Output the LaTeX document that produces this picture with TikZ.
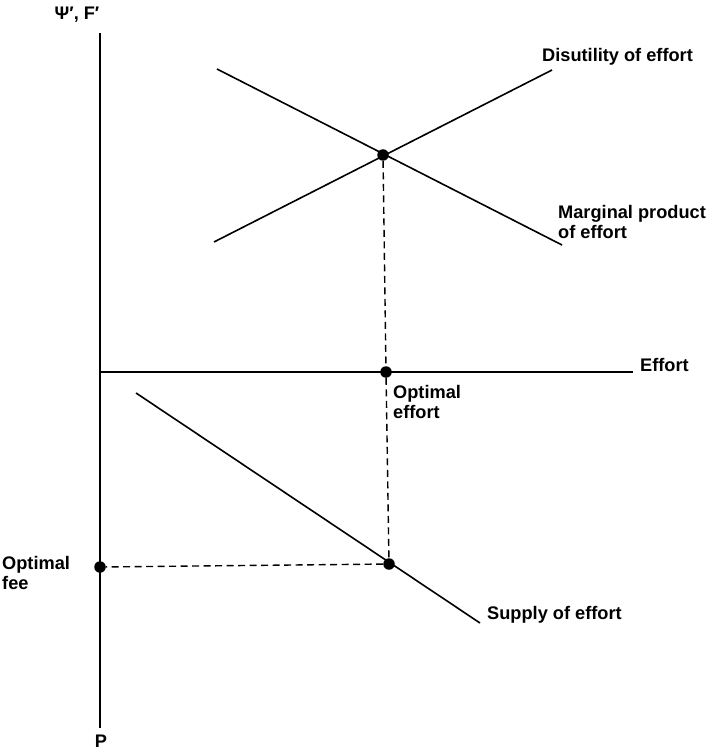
\documentclass[tikz,border=0pt]{standalone}
\usepackage{fontspec}
\setmainfont{Liberation Sans}
\begin{document}
\begin{tikzpicture}[x=1pt,y=-1pt,
  curve/.style={line width=1.6pt},
  guide/.style={line width=1.4pt, dash pattern=on 7pt off 4.5pt},
  dot/.style={circle, fill=black, inner sep=0pt, minimum size=11.5pt},
  lbl/.style={font=\fontsize{18.2}{20}\selectfont\bfseries, inner sep=0pt, align=left}]
\useasboundingbox (0,0) rectangle (712,751);
% axes
\coordinate (ytop) at (100,33);
\coordinate (ybot) at (100,728);
\coordinate (xleft) at (100,372);
\coordinate (xright) at (633,372);
\draw[curve] (ytop) -- (ybot);
\draw[curve] (xleft) -- (xright);
% curves
\coordinate (d1) at (214,242);
\coordinate (d2) at (552,70);
\coordinate (m1) at (217,69);
\coordinate (m2) at (562,245);
\coordinate (s1) at (136,393);
\coordinate (s2) at (480,623);
\draw[curve] (d1) -- (d2);
\draw[curve] (m1) -- (m2);
\draw[curve] (s1) -- (s2);
% points
\node[dot] (inter) at (383,155) {};
\node[dot] (opteff) at (386,372) {};
\node[dot] (supp) at (389,564) {};
\node[dot] (fee) at (100,567) {};
\draw[guide] (inter) -- (opteff);
\draw[guide] (opteff) -- (supp);
\draw[guide] (supp) -- (fee);
% labels
\node[lbl] (ylab) at (77,15) {Ψ′, F′};
\node[lbl, anchor=west] (dlab) at (542,57) {Disutility of effort};
\node[lbl, anchor=west] (mlab) at (558,222) {Marginal product\\of effort};
\node[lbl, anchor=west] (xlab) at (640,365) {Effort};
\node[lbl, anchor=west] (oelab) at (393,402) {Optimal\\effort};
\node[lbl, anchor=west] (oflab) at (2,573) {Optimal\\fee};
\node[lbl, anchor=west] (slab) at (487,615) {Supply of effort};
\node[lbl] (plab) at (101,741) {P};
\end{tikzpicture}
\end{document}
